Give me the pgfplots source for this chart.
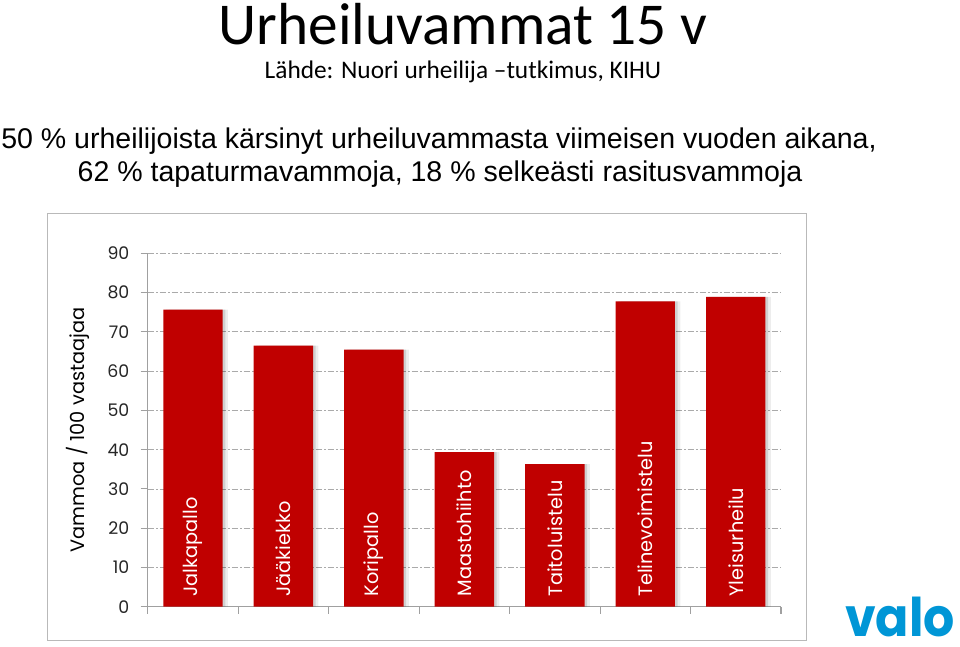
\documentclass[border=0pt]{standalone}
\usepackage{fontspec}
\usepackage{pgfplots}
\usepackage{pgfplotstable}
\pgfplotsset{compat=1.18}
\setmainfont{Liberation Sans}
\newfontfamily\calibri{Carlito}
\newfontfamily\arial{Liberation Sans}
\newfontfamily\gothic{Poppins}
\definecolor{barred}{RGB}{192,0,0}
\definecolor{gridgray}{RGB}{170,170,170}
\definecolor{axisgray}{RGB}{160,160,160}
\definecolor{boxgray}{RGB}{185,185,185}
\definecolor{valoblue}{RGB}{0,150,214}
\pgfplotstableread{
x y label
0 75.7 Jalkapallo
1 66.5 Jääkiekko
2 65.5 Koripallo
3 39.4 Maastohiihto
4 36.3 Taitoluistelu
5 77.8 Telinevoimistelu
6 78.9 Yleisurheilu
}\datatable
\begin{document}
\begin{tikzpicture}[x=0.75pt,y=0.75pt]
\useasboundingbox (0,0) rectangle (960,646);
\node[anchor=base, inner sep=0pt, font=\calibri\fontsize{44.5}{50}\selectfont] at (463,601) {Urheiluvammat 15 v};
\node[anchor=base, inner sep=0pt, font=\calibri\fontsize{19}{22}\selectfont] at (463,567) {Lähde: Nuori urheilija –tutkimus, KIHU};
\node[anchor=base, inner sep=0pt, font=\arial\fontsize{21.4}{25}\selectfont] at (439,497) {50 \% urheilijoista kärsinyt urheiluvammasta viimeisen vuoden aikana,};
\node[anchor=base, inner sep=0pt, font=\arial\fontsize{21.4}{25}\selectfont] at (440,464) {62 \% tapaturmavammoja, 18 \% selkeästi rasitusvammoja};
\draw[boxgray, line width=1.1pt] (47.3,5.3) rectangle (806.7,432.7);
\node[anchor=base, inner sep=0pt, xscale=0.92, text=valoblue, font=\gothic\bfseries\fontsize{40}{44}\selectfont] at (900,9) {valo};
\begin{axis}[
  at={(110.775pt,29.475pt)}, anchor=south west,
  scale only axis, width=475pt, height=265pt,
  xmin=-0.5, xmax=6.5, ymin=0, ymax=90,
  ytick={0,10,...,90},
  xtick={0,...,6}, xticklabels={},
  minor xtick={-0.5,0.5,...,6.5},
  axis x line*=bottom, axis y line*=left,
  axis line style={-, axisgray, line width=0.8pt},
  tick align=outside,
  major tick length=5.25pt, minor tick length=5.25pt,
  major x tick style={draw=none},
  minor x tick style={axisgray, line width=0.8pt},
  y tick style={axisgray, line width=0.8pt},
  ymajorgrids,
  major grid style={gridgray, dash pattern=on 5pt off 1.5pt on 1pt off 1.5pt, line width=0.6pt},
  /pgf/number format/assume math mode=true,
  yticklabel style={font=\gothic\fontsize{13}{15}\selectfont, text=black!85, xshift=-5pt},
  ylabel={Vammoa / 100 vastaajaa},
  ylabel style={font=\gothic\fontsize{14.5}{16}\selectfont, at={(axis description cs:-0.110,0.5)}, anchor=center},
]
\addplot[ybar, bar width=44.5pt, bar shift=4pt, fill=black, opacity=0.07, draw=none] table[x=x, y=y] {\datatable};
\addplot[ybar, bar width=44.5pt, bar shift=2pt, fill=black, opacity=0.12, draw=none] table[x=x, y=y] {\datatable};
\addplot[ybar, bar width=44.5pt, bar shift=0pt, fill=barred, draw=none] table[x=x, y=y] {\datatable};
\addplot[draw=none, mark=none, nodes near coords, point meta=explicit symbolic,
  nodes near coords style={yshift=7.5pt, rotate=90, anchor=west, text=white, inner sep=0pt, font=\gothic\fontsize{14.5}{16}\selectfont}]
  table[x=x, y expr=0, meta=label] {\datatable};
\end{axis}
\end{tikzpicture}
\end{document}
